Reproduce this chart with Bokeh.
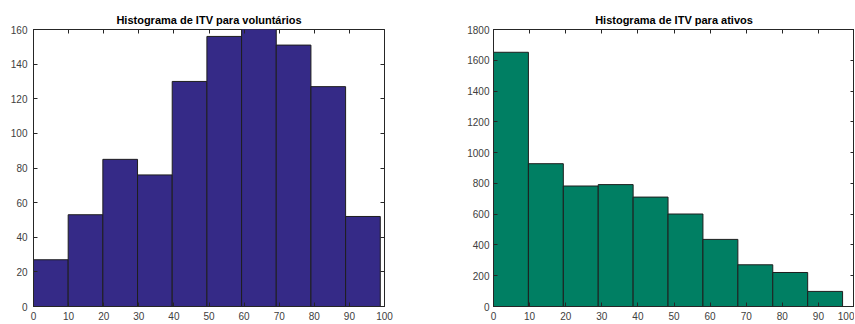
from bokeh.plotting import figure
from bokeh.layouts import row
from bokeh.models import LinearAxis, FixedTicker, Range1d
from bokeh.embed import file_html
from bokeh.resources import INLINE

# Data
vol_edges = [0, 9.88, 19.76, 29.64, 39.52, 49.4, 59.28, 69.16, 79.04, 88.92, 98.8]
vol_counts = [27, 53, 85, 76, 130, 156, 161, 151, 127, 52]
at_edges = [0, 9.67, 19.34, 29.01, 38.68, 48.35, 58.02, 67.69, 77.36, 87.03, 96.7]
at_counts = [1652, 928, 783, 792, 711, 601, 436, 271, 221, 98]
x_ticks = [0, 10, 20, 30, 40, 50, 60, 70, 80, 90, 100]
vol_yticks = [0, 20, 40, 60, 80, 100, 120, 140, 160]
at_yticks = [0, 200, 400, 600, 800, 1000, 1200, 1400, 1600, 1800]

FONT = "Liberation Sans"
AX = "#262626"
LBL = "#404040"


def make(title, edges, counts, color, ymax, yticks, w, bl, br, ystand):
    p = figure(width=w, height=324, output_backend="svg", toolbar_location=None,
               x_range=Range1d(0, 100), y_range=Range1d(0, ymax),
               min_border_left=bl, min_border_right=br, min_border_top=29,
               min_border_bottom=18)
    p.title.text = title
    p.title.align = "center"
    p.title.text_font = FONT
    p.title.text_font_size = "11px"
    p.title.text_font_style = "bold"
    p.title.text_color = "#000000"
    p.title.standoff = 8
    p.title.offset = 0
    p.grid.visible = False
    p.outline_line_color = AX
    p.outline_line_width = 1
    p.background_fill_color = "white"
    p.border_fill_color = "white"

    p.quad(left=edges[:-1], right=edges[1:], bottom=0, top=counts,
           fill_color=color, line_color="#1e1e1e", line_width=1)

    for ax in p.xaxis:
        ax.ticker = FixedTicker(ticks=x_ticks)
    for ax in p.yaxis:
        ax.ticker = FixedTicker(ticks=yticks)
    for ax, st in [(p.xaxis[0], 5), (p.yaxis[0], ystand)]:
        ax.major_tick_in = 4
        ax.major_tick_out = 0
        ax.minor_tick_in = 0
        ax.minor_tick_out = 0
        ax.axis_line_color = AX
        ax.major_tick_line_color = AX
        ax.major_label_text_font = FONT
        ax.major_label_text_font_size = "10px"
        ax.major_label_text_color = LBL
        ax.major_label_standoff = st

    top = LinearAxis(ticker=FixedTicker(ticks=x_ticks))
    right = LinearAxis(ticker=FixedTicker(ticks=yticks))
    for ax in (top, right):
        ax.major_tick_in = 4
        ax.major_tick_out = 0
        ax.minor_tick_in = 0
        ax.minor_tick_out = 0
        ax.axis_line_color = None
        ax.major_tick_line_color = AX
        ax.major_label_text_font_size = "0px"
        ax.major_label_text_color = None
        ax.major_label_standoff = 0
        ax.axis_label = None
        ax.axis_label_standoff = 0
    p.add_layout(top, "above")
    p.add_layout(right, "right")
    return p


p1 = make("Histograma de ITV para voluntários", vol_edges, vol_counts, "#352A87",
          160, vol_yticks, 420, 33, 36, 6)
p2 = make("Histograma de ITV para ativos", at_edges, at_counts, "#007F63",
          1800, at_yticks, 434, 73, 0, 4)

layout = row(p1, p2)
open("out.html", "w").write(file_html(layout, INLINE))
